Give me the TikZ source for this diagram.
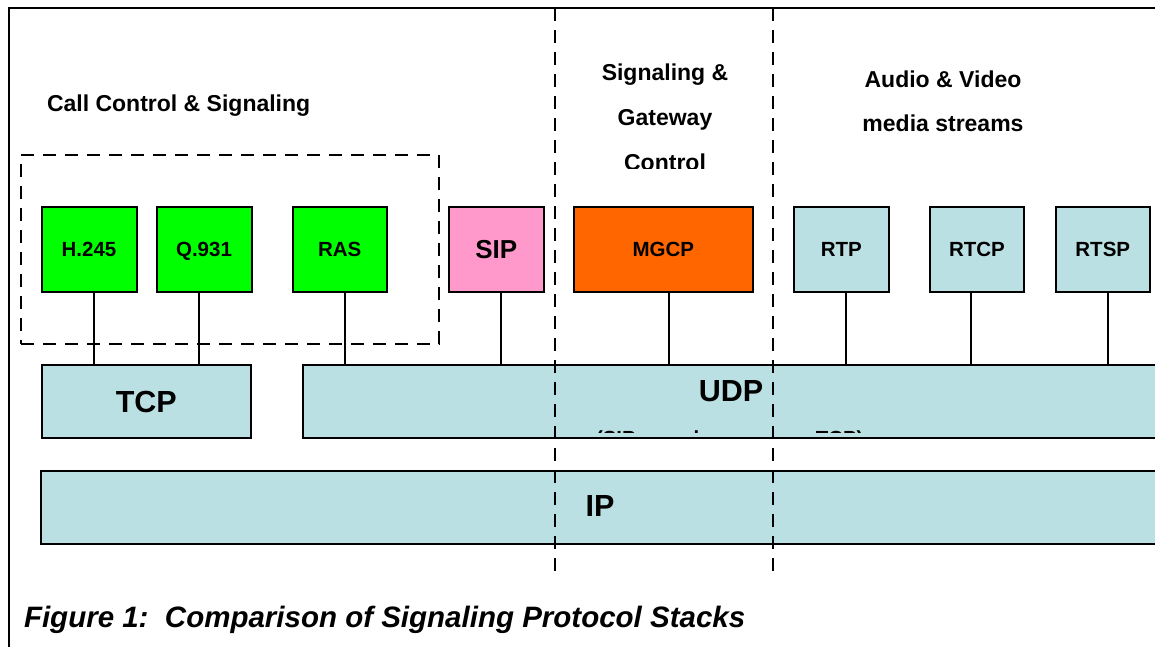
\documentclass[tikz,border=0pt]{standalone}
\usepackage{fontspec}
\setmainfont{Liberation Sans}
\definecolor{stackblue}{RGB}{187,224,227}
\definecolor{hgreen}{RGB}{0,255,0}
\definecolor{sippink}{RGB}{255,153,204}
\definecolor{mgcporange}{RGB}{255,102,0}
\begin{document}
\begin{tikzpicture}[x=1pt,y=-1pt,
  every node/.style={inner sep=0pt, outer sep=0pt},
  proto/.style={draw=black, line width=2pt, text depth=0pt,
    font=\bfseries\fontsize{20.5}{24}\selectfont, minimum height=85pt},
  layer/.style={draw=black, line width=2pt, fill=stackblue, minimum height=73.5pt},
  link/.style={line width=2pt},
  sepline/.style={line width=2pt, dash pattern=on 13pt off 9pt},
  heading/.style={font=\bfseries\fontsize{23}{27}\selectfont},
  big/.style={font=\bfseries\fontsize{30.5}{36}\selectfont}
]
\useasboundingbox (0,0) rectangle (1155,646);
\clip (0,0) rectangle (1155,646);

% outer frame (left and top edges)
\draw[line width=2pt] (9,660) -- (9,8) -- (1175,8);

% transport and network layers
\node[layer, big, text depth=0pt, minimum width=209pt] (tcp) at (146.25,401.5) {TCP};
\node[layer, minimum width=872pt] (udp) at (739,401.5) {};
\node[layer, minimum width=1134pt] (ip) at (608,507.5) {};
\node[big, anchor=base] (udplabel) at (731,401) {UDP};
\node[big, anchor=base] (iplabel) at (600,516) {IP};
\begin{scope}
  \clip (303,365) rectangle (1175,432.5);
  \node[font=\bfseries\fontsize{20.4}{24}\selectfont, anchor=base west] (udpnote)
    at (596,445.2) {(SIP can also run over TCP)};
\end{scope}

% application protocols
\node[proto, fill=hgreen, minimum width=95pt] (h245) at (89,249.5) {H.245};
\node[proto, fill=hgreen, minimum width=95pt] (q931) at (204,249.5) {Q.931};
\node[proto, fill=hgreen, minimum width=94.5pt] (ras) at (339.75,249.5) {RAS};
\node[proto, fill=sippink, minimum width=94.5pt, font=\bfseries\fontsize{26}{30}\selectfont] (sip) at (496.25,249.5) {SIP};
\node[proto, fill=mgcporange, minimum width=178.5pt] (mgcp) at (663.25,249.5) {MGCP};
\node[proto, fill=stackblue, minimum width=94.5pt] (rtp) at (841.25,249.5) {RTP};
\node[proto, fill=stackblue, minimum width=94pt] (rtcp) at (977,249.5) {RTCP};
\node[proto, fill=stackblue, minimum width=94.5pt] (rtsp) at (1102.75,249.5) {RTSP};

% links down to the transport layer
\draw[link] ([xshift=5pt]h245.south) -- ([xshift=5pt]h245.south |- tcp.north);
\draw[link] ([xshift=-5.5pt]q931.south) -- ([xshift=-5.5pt]q931.south |- tcp.north);
\draw[link] ([xshift=5.5pt]ras.south) -- ([xshift=5.5pt]ras.south |- udp.north);
\draw[link] ([xshift=5pt]sip.south) -- ([xshift=5pt]sip.south |- udp.north);
\draw[link] ([xshift=6pt]mgcp.south) -- ([xshift=6pt]mgcp.south |- udp.north);
\draw[link] ([xshift=5pt]rtp.south) -- ([xshift=5pt]rtp.south |- udp.north);
\draw[link] ([xshift=-6pt]rtcp.south) -- ([xshift=-6pt]rtcp.south |- udp.north);
\draw[link] ([xshift=5pt]rtsp.south) -- ([xshift=5pt]rtsp.south |- udp.north);

% H.323 group
\node[sepline, draw, minimum width=418pt, minimum height=189pt] (callgroup) at (230,249.5) {};

% column separators
\draw[sepline] (555,8) -- (555,577);
\draw[sepline] (773,8) -- (773,577);

% column headings
\node[heading, anchor=base west] (callhead) at (47,111) {Call Control \& Signaling};
\node[heading, anchor=base] (gwhead1) at (665,80) {Signaling \&};
\node[heading, anchor=base] (gwhead2) at (665,125) {Gateway};
\begin{scope}
  \clip (560,140) rectangle (770,168);
  \node[heading, anchor=base] (gwhead3) at (665,170) {Control};
\end{scope}
\node[heading, anchor=base] (mediahead1) at (943,87) {Audio \& Video};
\node[heading, anchor=base] (mediahead2) at (943,131) {media streams};

% caption
\node[font=\bfseries\itshape\fontsize{29.5}{34}\selectfont, anchor=base west] (caption)
  at (24,627) {Figure 1:\ \ Comparison of Signaling Protocol Stacks};
\end{tikzpicture}
\end{document}
